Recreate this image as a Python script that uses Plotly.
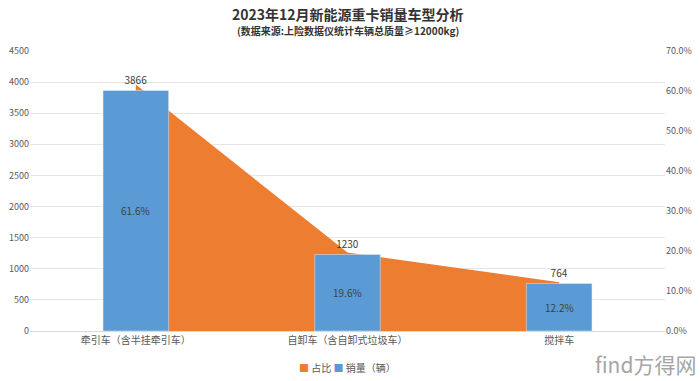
import plotly.graph_objects as go

categories = ["牵引车（含半挂牵引车）", "自卸车（含自卸式垃圾车）", "搅拌车"]
sales = [3866, 1230, 764]
share = [0.616, 0.196, 0.122]
share_labels = ["61.6%", "19.6%", "12.2%"]
series_names = ["占比", "销量（辆）"]

ORANGE = "#ED7D31"
BLUE = "#5B9BD5"
GRAY = "#595959"
FONT = "Noto Sans CJK SC"

fig = go.Figure()

# area (share) on percent axis (drawn beneath)
fig.add_trace(go.Scatter(
    x=categories, y=share, name=series_names[0], mode="lines",
    line=dict(color=ORANGE, width=0), fill="tozeroy", fillcolor=ORANGE,
    yaxis="y", hoverinfo="skip", showlegend=False,
))

# bars (sales) on count axis (overlaying, drawn above)
fig.add_trace(go.Bar(
    x=categories, y=sales, name=series_names[1], marker_color=BLUE,
    width=0.31, yaxis="y2", showlegend=False,
    text=[str(v) for v in sales], textposition="outside",
    textfont=dict(size=10, color="#404040", family=FONT),
    cliponaxis=False,
))

for c, v, lab in zip(categories, sales, share_labels):
    fig.add_annotation(x=c, y=v / 2, yref="y2", xref="x", text=lab,
                       showarrow=False, font=dict(size=10, color="#404040", family=FONT))

fig.add_annotation(xref="paper", yref="paper", x=0.5, y=1.0, yanchor="middle", yshift=37,
                   text="<b>2023年12月新能源重卡销量车型分析</b>", showarrow=False,
                   font=dict(size=14, color="#333333", family=FONT))
fig.add_annotation(xref="paper", yref="paper", x=0.5, y=1.0, yanchor="middle", yshift=21,
                   text="<b>(数据来源:上险数据仪统计车辆总质量≥12000kg)</b>", showarrow=False,
                   font=dict(size=10, color="#333333", family=FONT))

# legend as text with coloured squares
legend_text = (f'<span style="color:{ORANGE}">■</span> {series_names[0]} '
               f'<span style="color:{BLUE}">■</span> {series_names[1]}')
fig.add_annotation(xref="paper", yref="paper", x=0.5, y=0, xanchor="center", yanchor="middle",
                   yshift=-36, text=legend_text, showarrow=False,
                   font=dict(size=10, color=GRAY, family=FONT))

fig.add_annotation(xref="paper", yref="paper", x=1.0, y=0, xanchor="right", yanchor="middle",
                   xshift=33, yshift=-33,
                   text="find方得网", showarrow=False,
                   font=dict(size=21, color="#a6a6a6", family=FONT))

fig.update_layout(
    width=700, height=381,
    margin=dict(l=30, r=35, t=51, b=50, autoexpand=False),
    paper_bgcolor="white", plot_bgcolor="white",
    font=dict(family=FONT, color=GRAY, size=9),
    xaxis=dict(showgrid=False, showline=True, linecolor="#d9d9d9", ticks="",
               tickfont=dict(size=10, color=GRAY), automargin=False),
    yaxis=dict(side="right", range=[0, 0.7], dtick=0.1, tickformat=".1%",
               showgrid=False, zeroline=False, showline=False, automargin=False,
               tickfont=dict(size=9, color=GRAY)),
    yaxis2=dict(side="left", overlaying="y", range=[0, 4500], dtick=500,
                showgrid=True, gridcolor="#e6e6e6", zeroline=False, showline=False,
                automargin=False, tickfont=dict(size=9, color=GRAY)),
    showlegend=False,
)

fig.write_html("out.html", config={"displayModeBar": False},
               post_script="document.body.style.margin='0';document.body.style.overflow='hidden';")
